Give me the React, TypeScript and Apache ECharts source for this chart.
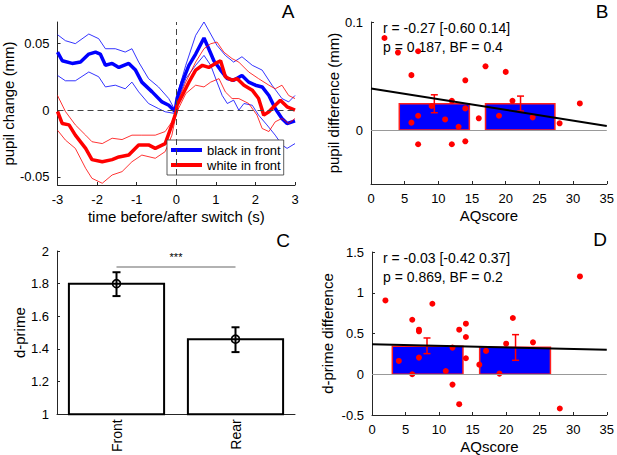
import React, { useEffect, useRef } from "react";
import * as echarts from "echarts";

const FONT = "'Liberation Sans', Arial, Helvetica, sans-serif";

// ---------- Panel A: pupil time course ----------
const blueMeanT = [-3, -2.88, -2.63, -2.42, -2.21, -2.04, -1.92, -1.79, -1.62, -1.45, -1.2, -1.03, -0.87, -0.61, -0.36, -0.19, -0.03, 0.02, 0.15, 0.32, 0.49, 0.7, 0.82, 0.95, 1.12, 1.29, 1.45, 1.66, 1.83, 2.0, 2.17, 2.34, 2.5, 2.67, 2.8, 3.0];
const blueMeanV = [0.0435, 0.037, 0.035, 0.036, 0.042, 0.0435, 0.042, 0.0336, 0.035, 0.032, 0.035, 0.03, 0.021, 0.0137, 0.0062, 0.0037, -0.001, 0.0087, 0.021, 0.0336, 0.042, 0.054, 0.046, 0.037, 0.03, 0.0236, 0.0224, 0.026, 0.021, 0.0187, 0.0174, 0.011, 0.0012, -0.0062, -0.01, -0.008];

const blueUpperT = [-3, -2.8, -2.55, -2.21, -1.96, -1.79, -1.54, -1.29, -1.12, -0.95, -0.7, -0.45, -0.19, -0.03, 0.02, 0.24, 0.49, 0.7, 0.87, 1.03, 1.24, 1.45, 1.66, 1.92, 2.17, 2.42, 2.67, 2.84, 3.0];
const blueUpperV = [0.0565, 0.052, 0.0498, 0.057, 0.0535, 0.046, 0.046, 0.0435, 0.046, 0.036, 0.0236, 0.0174, 0.0087, 0, 0.011, 0.0336, 0.056, 0.066, 0.057, 0.0485, 0.041, 0.036, 0.04, 0.0336, 0.03, 0.0187, 0.0087, 0.0062, 0.011];

const blueLowerT = [-3, -2.8, -2.55, -2.21, -1.96, -1.79, -1.54, -1.29, -1.12, -0.95, -0.7, -0.45, -0.28, -0.03, 0.02, 0.24, 0.49, 0.7, 0.87, 1.03, 1.16, 1.29, 1.45, 1.58, 1.71, 1.92, 2.08, 2.29, 2.5, 2.67, 2.8, 3.0];
const blueLowerV = [0.026, 0.022, 0.022, 0.0286, 0.025, 0.0174, 0.0187, 0.016, 0.021, 0.0137, 0.005, 0.0012, -0.0012, -0.0025, 0.005, 0.0236, 0.0336, 0.041, 0.0336, 0.021, 0.011, 0.005, 0.0075, 0, 0.005, 0.0037, -0.0037, -0.011, -0.0187, -0.026, -0.0286, -0.025];

const redMeanT = [-3, -2.88, -2.71, -2.55, -2.29, -2.13, -1.87, -1.62, -1.45, -1.2, -0.95, -0.7, -0.53, -0.28, -0.11, 0, 0.02, 0.15, 0.32, 0.49, 0.66, 0.82, 0.99, 1.12, 1.24, 1.41, 1.54, 1.71, 1.92, 2.08, 2.21, 2.34, 2.5, 2.63, 2.8, 3.0];
const redMeanV = [-0.001, -0.01, -0.011, -0.0187, -0.0286, -0.037, -0.0386, -0.037, -0.035, -0.0336, -0.026, -0.026, -0.0286, -0.025, -0.011, -0.001, 0.0037, 0.011, 0.021, 0.03, 0.0336, 0.032, 0.035, 0.037, 0.025, 0.0224, 0.0236, 0.0187, 0.015, 0.0087, -0.0037, -0.0012, 0.0037, 0.0075, 0.0025, 0];

const redUpperT = [-3, -2.8, -2.55, -2.29, -2.13, -1.87, -1.62, -1.37, -1.12, -0.87, -0.53, -0.28, -0.11, 0, 0.02, 0.24, 0.49, 0.7, 0.87, 1.03, 1.2, 1.41, 1.58, 1.83, 2.08, 2.34, 2.5, 2.67, 2.84, 3.0];
const redUpperV = [0.011, -0.001, -0.011, -0.0187, -0.0236, -0.025, -0.021, -0.022, -0.0187, -0.0187, -0.0187, -0.016, -0.0087, 0, 0.005, 0.021, 0.036, 0.046, 0.0497, 0.051, 0.0435, 0.0386, 0.036, 0.0286, 0.0236, 0.0187, 0.016, 0.0187, 0.011, 0.0087];

const redLowerT = [-3, -2.8, -2.55, -2.29, -2.13, -1.87, -1.62, -1.37, -1.12, -0.87, -0.53, -0.28, -0.11, 0, 0.02, 0.24, 0.49, 0.7, 0.87, 1.08, 1.24, 1.41, 1.58, 1.83, 2.04, 2.17, 2.34, 2.5, 2.67, 2.84, 3.0];
const redLowerV = [-0.015, -0.0224, -0.0286, -0.0435, -0.051, -0.0547, -0.0485, -0.046, -0.0386, -0.0336, -0.036, -0.031, -0.0187, -0.0025, -0.001, 0.0124, 0.0187, 0.0174, 0.021, 0.0236, 0.0137, 0.0087, 0.0087, 0.005, -0.0037, -0.0137, -0.016, -0.0087, -0.0062, -0.01, -0.0062];

const aYTicks = [-0.05, 0, 0.05];

// ---------- Panel B: pupil difference vs AQ ----------
const bScatterX = [2, 4, 7, 6, 6, 7, 7, 9, 11, 12, 12, 13, 14, 14, 14, 16, 17, 19, 20, 21, 24, 28, 31];
const bScatterY = [0.0852, 0.0717, 0.0729, 0.0508, 0.0068, 0.0132, -0.0132, 0.0222, 0.0098, 0.027, -0.0132, 0.003, 0.046, 0.02, -0.0105, 0.0108, 0.059, 0.0132, 0.0538, 0.027, 0.0117, 0.0062, 0.0246];
const bBarX0 = [4.2, 17.0];
const bBarX1 = [14.6, 27.3];
const bBarMean = [0.0243, 0.0243];
const bErrX = [9.4, 22.2];
const bErrLo = [0.016, 0.0175];
const bErrHi = [0.0326, 0.0314];
const bFitX = [0, 35];
const bFitY = [0.0385, 0.0037];
const bYTicks = [0, 0.1];
const bStat1 = "r = -0.27 [-0.60 0.14]";
const bStat2 = "p = 0.187, BF = 0.4";

// ---------- Panel C: d-prime ----------
const cCategories = ["Front", "Rear"];
const cMeans = [1.8, 1.46];
const cErrLo = [1.724, 1.381];
const cErrHi = [1.87, 1.533];
const cSigLevel = 1.903;
const cSigText = "***";

// ---------- Panel D: d-prime difference vs AQ ----------
const dScatterX = [2, 4, 6, 6, 7, 7, 7, 9, 11, 12, 12, 13, 13, 14, 14, 14, 16, 17, 19, 20, 21, 24, 28, 31];
const dScatterY = [0.906, 0.163, 0.669, 0, 0.547, 0.527, 0.204, 0.865, 0.04, 0.327, -0.127, 0.547, -0.367, 0.62, 0.457, 0.196, 0.118, 0.286, 0.008, 0.375, 0.69, 0.392, -0.42, 1.2];
const dBarX0 = [3.03, 16.05];
const dBarX1 = [13.56, 26.6];
const dBarMean = [0.343, 0.33];
const dErrX = [8.2, 21.4];
const dErrLo = [0.253, 0.171];
const dErrHi = [0.445, 0.486];
const dFitX = [0, 35];
const dFitY = [0.367, 0.302];
const dStat1 = "r = -0.03 [-0.42 0.37]";
const dStat2 = "p = 0.869, BF = 0.2";

const pairs = (xs: number[], ys: number[]) => xs.map((x, i) => [x, ys[i]]);

const AXIS_COLOR = "#262626";

function axisBase(extra: any) {
  return {
    axisLine: { show: true, onZero: false, lineStyle: { color: AXIS_COLOR, width: 1 } },
    axisTick: { show: true, inside: true, length: 3, lineStyle: { color: AXIS_COLOR } },
    axisLabel: { color: "#000", fontSize: 13, fontFamily: FONT },
    splitLine: { show: false },
    nameTextStyle: { color: "#000", fontSize: 15, fontFamily: FONT },
    ...extra,
  };
}

function barRender(fill: string, stroke: string) {
  return (params: any, api: any) => {
    const p0 = api.coord([api.value(0), api.value(2)]);
    const p1 = api.coord([api.value(1), 0]);
    return {
      type: "rect",
      shape: { x: p0[0], y: p0[1], width: p1[0] - p0[0], height: p1[1] - p0[1] },
      style: { fill, stroke, lineWidth: 1.5 },
    };
  };
}

function errRender(color: string, lw: number, cap: number, marker: boolean) {
  return (params: any, api: any) => {
    const lo = api.coord([api.value(0), api.value(1)]);
    const hi = api.coord([api.value(0), api.value(2)]);
    const children: any[] = [
      { type: "line", shape: { x1: lo[0], y1: lo[1], x2: hi[0], y2: hi[1] }, style: { stroke: color, lineWidth: lw } },
      { type: "line", shape: { x1: lo[0] - cap, y1: lo[1], x2: lo[0] + cap, y2: lo[1] }, style: { stroke: color, lineWidth: lw } },
      { type: "line", shape: { x1: hi[0] - cap, y1: hi[1], x2: hi[0] + cap, y2: hi[1] }, style: { stroke: color, lineWidth: lw } },
    ];
    if (marker) {
      const m = api.coord([api.value(0), api.value(3)]);
      children.push({ type: "circle", shape: { cx: m[0], cy: m[1], r: 4 }, style: { fill: "none", stroke: color, lineWidth: 1.6 } });
    }
    return { type: "group", children };
  };
}

export default function App() {
  const ref = useRef<HTMLDivElement>(null);
  useEffect(() => {
    if (!ref.current) return;
    const chart = echarts.init(ref.current, null, { renderer: "svg" });
    const thin = (name: string, t: number[], v: number[], color: string, extra: any = {}) => ({
      name,
      type: "line",
      xAxisIndex: 0,
      yAxisIndex: 0,
      data: pairs(t, v),
      symbol: "none",
      lineStyle: { color, width: 0.8 },
      itemStyle: { color },
      silent: true,
      ...extra,
    });
    const option: any = {
      animation: false,
      textStyle: { fontFamily: FONT },
      grid: [
        { left: 57, top: 22, width: 238, height: 163 },
        { left: 371, top: 22, width: 239, height: 162 },
        { left: 57, top: 251, width: 238, height: 164 },
        { left: 372, top: 252, width: 238, height: 163 },
      ],
      legend: {
        data: [
          { name: "black in front", icon: "rect" },
          { name: "white in front", icon: "rect" },
        ],
        orient: "vertical",
        left: 167,
        top: 140,
        padding: [3, 3, 3, 4],
        itemGap: 1,
        itemWidth: 31,
        itemHeight: 4,
        backgroundColor: "#fff",
        borderColor: "#333",
        borderWidth: 0.8,
        borderRadius: 0,
        textStyle: { fontSize: 13, color: "#000", fontFamily: FONT, lineHeight: 14 },
        selectedMode: false,
      },
      xAxis: [
        axisBase({ type: "value", gridIndex: 0, min: -3, max: 3, interval: 1, name: "time before/after switch (s)", nameLocation: "middle", nameGap: 24 }),
        axisBase({ type: "value", gridIndex: 1, min: 0, max: 35, interval: 5, name: "AQscore", nameLocation: "middle", nameGap: 24 }),
        axisBase({
          type: "category",
          gridIndex: 2,
          data: cCategories,
          axisTick: { show: false },
          axisLabel: { color: "#000", fontSize: 14, fontFamily: FONT, rotate: 90, margin: 5 },
        }),
        axisBase({ type: "value", gridIndex: 3, min: 0, max: 35, interval: 5, name: "AQscore", nameLocation: "middle", nameGap: 24 }),
      ],
      yAxis: [
        axisBase({
          type: "value",
          gridIndex: 0,
          min: -0.056,
          max: 0.066,
          name: "pupil change (mm)",
          nameLocation: "middle",
          nameGap: 39,
          axisTick: { show: true, inside: true, length: 3, lineStyle: { color: AXIS_COLOR }, customValues: aYTicks },
          axisLabel: { color: "#000", fontSize: 13, fontFamily: FONT, customValues: aYTicks },
        }),
        axisBase({
          type: "value",
          gridIndex: 1,
          min: -0.05,
          max: 0.1,
          name: "pupil difference (mm)",
          nameLocation: "middle",
          nameGap: 28,
          axisTick: { show: true, inside: true, length: 3, lineStyle: { color: AXIS_COLOR }, customValues: bYTicks },
          axisLabel: { color: "#000", fontSize: 13, fontFamily: FONT, customValues: bYTicks },
        }),
        axisBase({ type: "value", gridIndex: 2, min: 1, max: 2, interval: 0.2, name: "d-prime", nameLocation: "middle", nameGap: 30 }),
        axisBase({ type: "value", gridIndex: 3, min: -0.5, max: 1.5, interval: 0.5, name: "d-prime difference", nameLocation: "middle", nameGap: 37 }),
      ],
      series: [
        // Panel A
        thin("blue upper", blueUpperT, blueUpperV, "#0000ff", {
          markLine: {
            silent: true,
            symbol: "none",
            label: { show: false },
            lineStyle: { type: [6, 4], color: "#444", width: 1 },
            data: [{ xAxis: 0 }, { yAxis: 0 }],
          },
        }),
        thin("blue lower", blueLowerT, blueLowerV, "#0000ff"),
        {
          name: "black in front",
          type: "line",
          xAxisIndex: 0,
          yAxisIndex: 0,
          data: pairs(blueMeanT, blueMeanV),
          symbol: "none",
          lineStyle: { color: "#0000ff", width: 3.5 },
          itemStyle: { color: "#0000ff" },
        },
        thin("red upper", redUpperT, redUpperV, "#ff0000"),
        thin("red lower", redLowerT, redLowerV, "#ff0000"),
        {
          name: "white in front",
          type: "line",
          xAxisIndex: 0,
          yAxisIndex: 0,
          data: pairs(redMeanT, redMeanV),
          symbol: "none",
          lineStyle: { color: "#ff0000", width: 3.5 },
          itemStyle: { color: "#ff0000" },
        },
        // Panel B
        {
          name: "b bars",
          type: "custom",
          xAxisIndex: 1,
          yAxisIndex: 1,
          encode: { x: [0, 1], y: 2 },
          data: bBarX0.map((x, i) => [x, bBarX1[i], bBarMean[i]]),
          renderItem: barRender("#0000ff", "#ff2020"),
          markLine: {
            silent: true,
            symbol: "none",
            label: { show: false },
            lineStyle: { type: "solid", color: "#999", width: 1 },
            data: [{ yAxis: 0 }],
          },
        },
        {
          name: "b err",
          type: "custom",
          xAxisIndex: 1,
          yAxisIndex: 1,
          encode: { x: 0, y: [1, 2] },
          data: bErrX.map((x, i) => [x, bErrLo[i], bErrHi[i]]),
          renderItem: errRender("#ff0000", 1.5, 3.5, false),
        },
        {
          name: "b scatter",
          type: "scatter",
          xAxisIndex: 1,
          yAxisIndex: 1,
          data: pairs(bScatterX, bScatterY),
          symbolSize: 6,
          itemStyle: { color: "#ff0000", opacity: 1 },
        },
        {
          name: "b fit",
          type: "line",
          xAxisIndex: 1,
          yAxisIndex: 1,
          data: pairs(bFitX, bFitY),
          symbol: "none",
          lineStyle: { color: "#000", width: 2 },
        },
        // Panel C
        {
          name: "c bars",
          type: "custom",
          xAxisIndex: 2,
          yAxisIndex: 2,
          encode: { x: 0, y: 1 },
          data: cMeans.map((v, i) => [i, v]),
          renderItem: (params: any, api: any) => {
            const top = api.coord([api.value(0), api.value(1)]);
            const base = api.coord([api.value(0), 1]);
            const w = api.size([1, 0])[0] * 0.8;
            return {
              type: "rect",
              shape: { x: top[0] - w / 2, y: top[1], width: w, height: base[1] - top[1] },
              style: { fill: "#fff", stroke: "#000", lineWidth: 2 },
            };
          },
          markLine: {
            silent: true,
            symbol: "none",
            lineStyle: { type: "solid", color: "#999", width: 1.5 },
            label: { show: true, position: "middle", formatter: cSigText, color: "#000", fontSize: 11, distance: 4 },
            data: [[{ coord: [cCategories[0], cSigLevel] }, { coord: [cCategories[1], cSigLevel] }]],
          },
        },
        {
          name: "c err",
          type: "custom",
          xAxisIndex: 2,
          yAxisIndex: 2,
          encode: { x: 0, y: [1, 2] },
          data: cMeans.map((v, i) => [i, cErrLo[i], cErrHi[i], v]),
          renderItem: errRender("#000", 2, 4, true),
        },
        // Panel D
        {
          name: "d bars",
          type: "custom",
          xAxisIndex: 3,
          yAxisIndex: 3,
          encode: { x: [0, 1], y: 2 },
          data: dBarX0.map((x, i) => [x, dBarX1[i], dBarMean[i]]),
          renderItem: barRender("#0000ff", "#ff2020"),
          markLine: {
            silent: true,
            symbol: "none",
            label: { show: false },
            lineStyle: { type: "solid", color: "#999", width: 1 },
            data: [{ yAxis: 0 }],
          },
        },
        {
          name: "d err",
          type: "custom",
          xAxisIndex: 3,
          yAxisIndex: 3,
          encode: { x: 0, y: [1, 2] },
          data: dErrX.map((x, i) => [x, dErrLo[i], dErrHi[i]]),
          renderItem: errRender("#ff0000", 1.5, 3.5, false),
        },
        {
          name: "d scatter",
          type: "scatter",
          xAxisIndex: 3,
          yAxisIndex: 3,
          data: pairs(dScatterX, dScatterY),
          symbolSize: 6,
          itemStyle: { color: "#ff0000", opacity: 1 },
        },
        {
          name: "d fit",
          type: "line",
          xAxisIndex: 3,
          yAxisIndex: 3,
          data: pairs(dFitX, dFitY),
          symbol: "none",
          lineStyle: { color: "#000", width: 2 },
        },
      ],
      graphic: [
        { type: "text", x: 288, y: 11, style: { text: "A", fontSize: 19, fontFamily: FONT, fill: "#000", align: "center", verticalAlign: "middle" } },
        { type: "text", x: 602, y: 11, style: { text: "B", fontSize: 19, fontFamily: FONT, fill: "#000", align: "center", verticalAlign: "middle" } },
        { type: "text", x: 283, y: 240, style: { text: "C", fontSize: 19, fontFamily: FONT, fill: "#000", align: "center", verticalAlign: "middle" } },
        { type: "text", x: 600, y: 239, style: { text: "D", fontSize: 19, fontFamily: FONT, fill: "#000", align: "center", verticalAlign: "middle" } },
        { type: "text", x: 383, y: 28, style: { text: bStat1, fontSize: 14, fontFamily: FONT, fill: "#000", verticalAlign: "middle" } },
        { type: "text", x: 383, y: 47, style: { text: bStat2, fontSize: 14, fontFamily: FONT, fill: "#000", verticalAlign: "middle" } },
        { type: "text", x: 383, y: 258, style: { text: dStat1, fontSize: 14, fontFamily: FONT, fill: "#000", verticalAlign: "middle" } },
        { type: "text", x: 383, y: 277, style: { text: dStat2, fontSize: 14, fontFamily: FONT, fill: "#000", verticalAlign: "middle" } },
      ],
    };
    chart.setOption(option);
    return () => chart.dispose();
  }, []);
  return <div ref={ref} style={{ position: "fixed", left: 0, top: 0, width: 617, height: 455, background: "#fff" }} />;
}
